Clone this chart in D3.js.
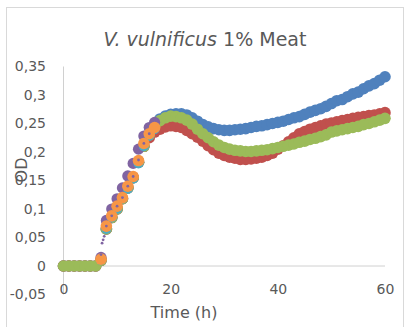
<!DOCTYPE html>
<html>
<head>
<meta charset="utf-8">
<script src="https://cdn.jsdelivr.net/npm/d3@7"></script>
<style>
  body { margin: 0; background: #fff; }
  text { font-family: "DejaVu Sans", sans-serif; fill: #595959; }
</style>
</head>
<body>
<div id="chart"></div>
<script>
// hourly readings, 0..60 h
var hours = d3.range(0, 61);

var blueOD = [0, 0, 0, 0, 0, 0, 0, 0.01, 0.065, 0.085, 0.1, 0.118, 0.137, 0.155, 0.182, 0.21, 0.23, 0.245,
  0.258, 0.263, 0.266, 0.267, 0.267, 0.265, 0.26, 0.254, 0.248, 0.244, 0.241, 0.239, 0.238,
  0.238, 0.239, 0.24, 0.241, 0.243, 0.245, 0.246, 0.248, 0.25, 0.252,
  0.254, 0.257, 0.26, 0.262, 0.266, 0.27, 0.273, 0.276, 0.28, 0.285,
  0.29, 0.292, 0.297, 0.302, 0.305, 0.311, 0.316, 0.32, 0.326, 0.332];

var redOD = [0, 0, 0, 0, 0, 0, 0, 0.01, 0.065, 0.085, 0.1, 0.118, 0.137, 0.155, 0.182, 0.21, 0.225, 0.235,
  0.24, 0.244, 0.246, 0.245, 0.243, 0.238, 0.232, 0.226, 0.219, 0.211, 0.204, 0.198, 0.194,
  0.191, 0.189, 0.187, 0.187, 0.188, 0.189, 0.191, 0.194, 0.198, 0.205,
  0.211, 0.218, 0.225, 0.232, 0.236, 0.24, 0.243, 0.246, 0.249, 0.251,
  0.253, 0.255, 0.257, 0.259, 0.261, 0.262, 0.264, 0.265, 0.267, 0.269];

var greenOD = [0, 0, 0, 0, 0, 0, 0, 0.01, 0.065, 0.085, 0.1, 0.118, 0.137, 0.155, 0.182, 0.21, 0.23, 0.245,
  0.255, 0.26, 0.263, 0.262, 0.26, 0.256, 0.249, 0.24, 0.232, 0.225, 0.218, 0.212, 0.208,
  0.205, 0.203, 0.202, 0.201, 0.201, 0.202, 0.203, 0.204, 0.206, 0.208,
  0.21, 0.212, 0.214, 0.217, 0.219, 0.222, 0.224, 0.227, 0.23, 0.235,
  0.237, 0.239, 0.241, 0.243, 0.245, 0.248, 0.25, 0.253, 0.256, 0.259];

// short replicates, 7..17 h
var shortHours = d3.range(7, 18);
var purpleOD = [0.015, 0.08, 0.1, 0.118, 0.137, 0.158, 0.18, 0.205, 0.228, 0.243, 0.252];
var cyanOD   = [0.01, 0.065, 0.085, 0.1, 0.118, 0.135, 0.153, 0.18, 0.21, 0.228, 0.24];
var orangeOD = [0.012, 0.07, 0.088, 0.105, 0.12, 0.14, 0.157, 0.185, 0.215, 0.232, 0.243];

var dotHours = [7, 7.2, 7.4, 7.6, 8, 9, 10, 11, 12, 13, 14, 15, 16];
var dotOD    = [0.02, 0.04, 0.046, 0.052, 0.07, 0.088, 0.105, 0.12, 0.14, 0.157, 0.186, 0.215, 0.232];

var xTicks = [0, 20, 40, 60];
var yTicks = [-0.05, 0, 0.05, 0.1, 0.15, 0.2, 0.25, 0.3, 0.35];
var yTickLabels = ["-0,05", "0", "0,05", "0,1", "0,15", "0,2", "0,25", "0,3", "0,35"];

var width = 408, height = 327;

var svg = d3.select("#chart").append("svg")
    .attr("width", width)
    .attr("height", height);

// chart border
svg.append("rect")
    .attr("x", 6.5).attr("y", 7.5)
    .attr("width", 397).attr("height", 320)
    .attr("fill", "#fff")
    .attr("stroke", "#d9d9d9");

var x = d3.scaleLinear().domain([0, 60]).range([63.5, 385]);
var y = d3.scaleLinear().domain([-0.05, 0.35]).range([294.5, 66.5]);

// axis lines
svg.append("line")
    .attr("x1", x(0)).attr("x2", x(0))
    .attr("y1", y(0.35)).attr("y2", y(-0.05))
    .attr("stroke", "#d0d0d0");
svg.append("line")
    .attr("x1", x(0)).attr("x2", x(60))
    .attr("y1", y(0)).attr("y2", y(0))
    .attr("stroke", "#d0d0d0");

// y ticks
var yAxis = d3.axisLeft(y).tickValues(yTicks).tickSize(0).tickPadding(0)
    .tickFormat(function(d, i) { return yTickLabels[i]; });
svg.append("g")
    .attr("transform", "translate(46,0)")
    .call(yAxis)
    .call(function(g) { g.select(".domain").remove(); })
    .selectAll("text")
    .style("font-size", "14px")
    .style("font-family", "DejaVu Sans")
    .attr("fill", "#595959");

// x ticks, drawn at the bottom of the plot
var xAxis = d3.axisBottom(x).tickValues(xTicks).tickSize(0).tickPadding(0);
svg.append("g")
    .attr("transform", "translate(0,284)")
    .call(xAxis)
    .call(function(g) { g.select(".domain").remove(); })
    .selectAll("text")
    .style("font-size", "14px")
    .style("font-family", "DejaVu Sans")
    .attr("fill", "#595959");

function drawSeries(ts, vals, color, r) {
    svg.append("g").selectAll("circle")
        .data(vals)
        .enter().append("circle")
        .attr("cx", function(d, i) { return x(ts[i]); })
        .attr("cy", function(d) { return y(d); })
        .attr("r", r)
        .attr("fill", color);
}

drawSeries(hours, blueOD, "#4f81bd", 5.8);
drawSeries(hours, redOD, "#c0504d", 5.8);
drawSeries(hours, greenOD, "#9bbb59", 5.8);
drawSeries(shortHours, purpleOD, "#8064a2", 5.6);
drawSeries(shortHours, cyanOD, "#4bacc6", 5);
drawSeries(shortHours, orangeOD, "#f79646", 5.8);
drawSeries(dotHours, dotOD, "#8064a2", 1.4);

// title
var title = svg.append("text")
    .attr("x", 205).attr("y", 46)
    .attr("text-anchor", "middle")
    .style("font-size", "19px");
title.append("tspan").style("font-style", "italic").text("V. vulnificus");
title.append("tspan").text(" 1% Meat");

// axis titles
svg.append("text")
    .attr("x", 184).attr("y", 318)
    .attr("text-anchor", "middle")
    .style("font-size", "16px")
    .text("Time (h)");

svg.append("text")
    .attr("transform", "translate(27,170) rotate(-90)")
    .attr("text-anchor", "middle")
    .style("font-size", "16px")
    .text("OD");
</script>
</body>
</html>
